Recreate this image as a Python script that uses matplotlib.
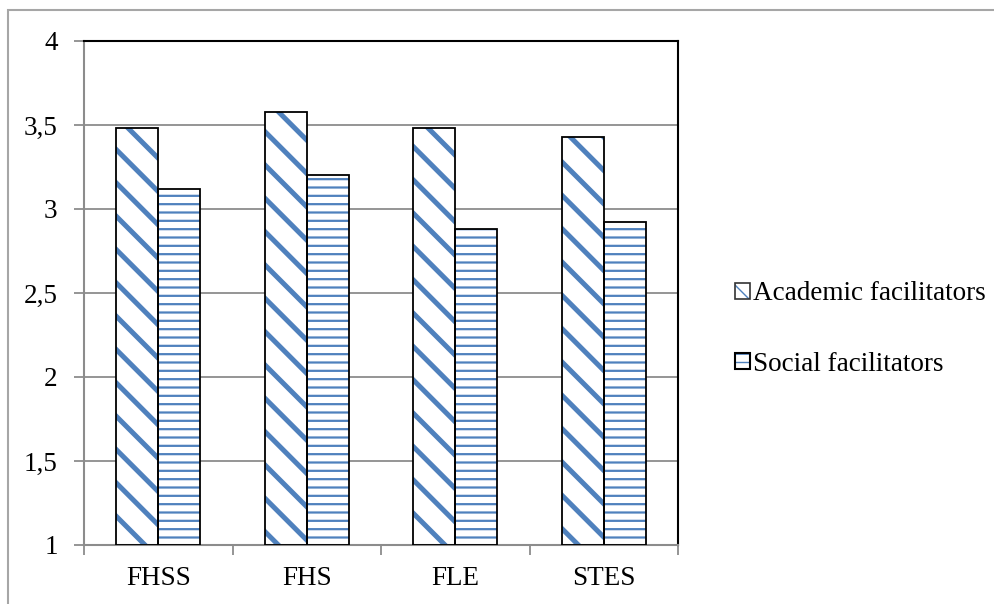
import matplotlib
matplotlib.use('Agg')
import matplotlib.pyplot as plt
import numpy as np
from matplotlib.patches import Rectangle, Patch

categories = ['FHSS', 'FHS', 'FLE', 'STES']
academic = [3.48, 3.58, 3.48, 3.43]
social = [3.12, 3.20, 2.88, 2.92]
yticks = [1, 1.5, 2, 2.5, 3, 3.5, 4]
ytick_labels = ['1', '1,5', '2', '2,5', '3', '3,5', '4']

blue = '#4F81BD'
grid_gray = '#8C8C8C'

plt.rcParams['font.family'] = ['Liberation Serif', 'DejaVu Serif']

fig = plt.figure(figsize=(9.94, 6.04), dpi=100)
ax = fig.add_axes([84 / 994, 1 - 545 / 604, (678 - 84) / 994, (545 - 41) / 604])

x = np.arange(len(categories))
w = 0.283

# hatched fills first (hatch width is taken when the patch is made),
# black outlines drawn on top
with plt.rc_context({'hatch.linewidth': 3.6}):
    ax.bar(x - w / 2, np.array(academic) - 1, w, bottom=1, color='white',
           edgecolor=blue, hatch='\\', linewidth=0, zorder=2)
    a_fill = Patch(facecolor='white', edgecolor=blue, hatch='\\\\', linewidth=0)
with plt.rc_context({'hatch.linewidth': 1.6}):
    ax.bar(x + w / 2, np.array(social) - 1, w, bottom=1, color='white',
           edgecolor=blue, hatch='--', linewidth=0, zorder=2)
    s_fill = Patch(facecolor='white', edgecolor=blue, hatch='--', linewidth=0)
ax.bar(x - w / 2, np.array(academic) - 1, w, bottom=1, fill=False,
       edgecolor='black', linewidth=1.3, zorder=3)
ax.bar(x + w / 2, np.array(social) - 1, w, bottom=1, fill=False,
       edgecolor='black', linewidth=1.3, zorder=3)

ax.set_xlim(-0.5, len(categories) - 0.5)
ax.set_ylim(1, 4)
ax.set_yticks(yticks)
ax.set_yticklabels(ytick_labels, fontsize=19.5)
ax.yaxis.grid(True, color=grid_gray, linewidth=1.3, zorder=0)
ax.set_axisbelow(True)

ax.set_xticks(x)
ax.set_xticklabels(categories, fontsize=19.5)
ax.tick_params(axis='x', length=0, pad=15)
ax.set_xticks(np.arange(-0.5, len(categories)), minor=True)
ax.tick_params(axis='x', which='minor', length=7, width=1.3, color=grid_gray, direction='out')
ax.tick_params(axis='y', length=7, width=1.3, color=grid_gray, direction='out', pad=12)

for s in ['left', 'bottom']:
    ax.spines[s].set_color(grid_gray)
    ax.spines[s].set_linewidth(1.5)
for s in ['top', 'right']:
    ax.spines[s].set_color('black')
    ax.spines[s].set_linewidth(1.5)

# legend with overlaid hatch + outline proxies
a_edge = Patch(fill=False, edgecolor='#333333', linewidth=1.2)
s_edge = Patch(fill=False, edgecolor='black', linewidth=1.5)
fig.legend([(a_fill, a_edge), (s_fill, s_edge)],
           ['Academic facilitators', 'Social facilitators'],
           loc='center left', bbox_to_anchor=(724 / 994, 1 - 329 / 604),
           frameon=False, fontsize=19.5, handlelength=0.55, handleheight=0.55,
           handletextpad=0.12, labelspacing=1.68, borderaxespad=0)

# outer chart border (clipped by the image)
fig.patches.append(Rectangle((8 / 994, -0.05), 1.2, 1 - 10 / 604 + 0.05,
                             transform=fig.transFigure, fill=False,
                             edgecolor='#A6A6A6', linewidth=1.5))

fig.savefig('out.png', dpi=100)
